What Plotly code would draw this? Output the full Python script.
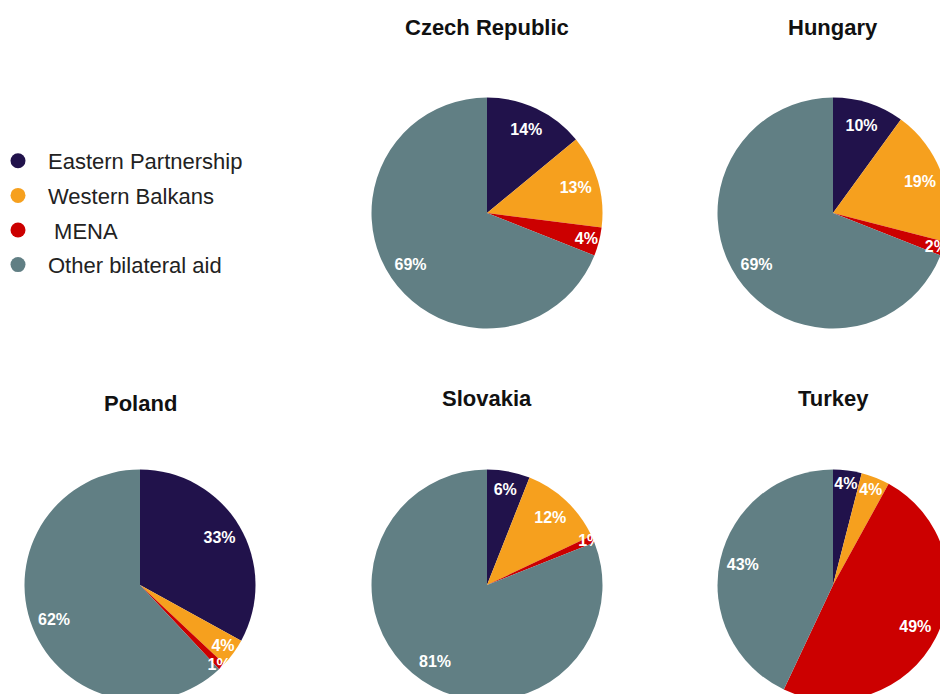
import plotly.graph_objects as go

# ---- data ----
categories = ["Eastern Partnership", "Western Balkans", "MENA", "Other bilateral aid"]
legend_labels = ["Eastern Partnership", "Western Balkans", " MENA", "Other bilateral aid"]
countries = ["Czech Republic", "Hungary", "Poland", "Slovakia", "Turkey"]
czech = [14, 13, 4, 69]
hungary = [10, 19, 2, 69]
poland = [33, 4, 1, 62]
slovakia = [6, 12, 1, 81]
turkey = [4, 4, 49, 43]
values = [czech, hungary, poland, slovakia, turkey]

colors = ["#21124B", "#F6A01E", "#CC0000", "#617F84"]

# ---- layout geometry (figure larger than viewport so pies are clipped like the reference) ----
W, H = 970, 730
R = 115.5
centers = [(487, 213), (833, 213), (140, 585), (487, 585), (833, 585)]
title_pos = [(487, 27), (833, 27), (140, 404), (487, 398), (833, 398)]
FONT = "Liberation Sans, Arial"

fig = go.Figure()

for name, vals, (cx, cy) in zip(countries, values, centers):
    dom = dict(x=[(cx - R) / W, (cx + R) / W],
               y=[(H - (cy + R)) / H, (H - (cy - R)) / H])
    # filled pie
    fig.add_trace(go.Pie(
        labels=categories, values=vals, sort=False, direction="clockwise", rotation=0,
        marker=dict(colors=colors, line=dict(width=0)),
        textinfo="none", hoverinfo="label+value+name", name=name,
        showlegend=False, domain=dom,
    ))
    # transparent ring on top, only to place the labels further out
    fig.add_trace(go.Pie(
        labels=categories, values=vals, sort=False, direction="clockwise", rotation=0,
        hole=0.6,
        marker=dict(colors=["rgba(0,0,0,0)"] * 4, line=dict(width=0)),
        texttemplate="%{value}%", textposition="inside",
        insidetextorientation="horizontal",
        textfont=dict(family=FONT, size=16, color="white", weight="bold"),
        hoverinfo="skip", showlegend=False, domain=dom,
    ))

# legend entries (circle markers)
for lab, col in zip(legend_labels, colors):
    fig.add_trace(go.Scatter(
        x=[None], y=[None], mode="markers",
        marker=dict(symbol="circle", size=15, color=col),
        name=lab, legendgroup=lab, showlegend=True,
    ))

annotations = []
for name, (tx, ty) in zip(countries, title_pos):
    annotations.append(dict(
        text="<b>" + name + "</b>", x=tx / W, y=1 - ty / H, xref="paper", yref="paper",
        xanchor="center", yanchor="middle", showarrow=False,
        font=dict(family=FONT, size=22, color="#111111"),
    ))

fig.update_layout(
    width=W, height=H, autosize=False,
    margin=dict(l=0, r=0, t=0, b=0, autoexpand=False),
    paper_bgcolor="white", plot_bgcolor="white",
    xaxis=dict(visible=False), yaxis=dict(visible=False),
    annotations=annotations,
    uniformtext=dict(minsize=16, mode="show"),
    legend=dict(
        x=-12 / W, xanchor="left", y=1 - 140 / H, yanchor="top",
        font=dict(family=FONT, size=22, color="#222222"),
        itemwidth=50, bgcolor="rgba(0,0,0,0)", tracegroupgap=3,
    ),
)

fig.write_html(
    "out.html",
    config={"displayModeBar": False},
    post_script="document.body.style.margin='0';document.body.style.overflow='hidden';"
                "document.documentElement.style.overflow='hidden';",
)
